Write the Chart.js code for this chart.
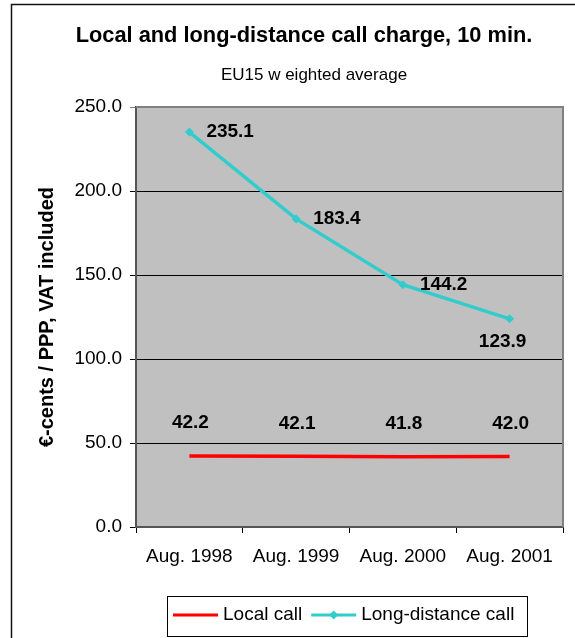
<!DOCTYPE html>
<html>
<head>
<meta charset="utf-8">
<script src="https://cdn.jsdelivr.net/npm/chart.js@4"></script>
<style>
  html, body { margin: 0; padding: 0; background: #fff; }
  canvas { display: block; }
</style>
</head>
<body>
<canvas id="callChart" width="575" height="638"></canvas>
<script>
const chartTitle = "Local and long-distance call charge, 10 min.";
const chartSubtitle = "EU15 w eighted average";
const yTitle = "€-cents / PPP, VAT included";
const categories = ["Aug. 1998", "Aug. 1999", "Aug. 2000", "Aug. 2001"];
const localCall = [42.2, 42.1, 41.8, 42.0];
const longDistanceCall = [235.1, 183.4, 144.2, 123.9];
const seriesNames = ["Local call", "Long-distance call"];
const yMin = 0, yMax = 250, yStep = 50;

const FONT = "'Liberation Sans', Arial, sans-serif";
Chart.defaults.color = "#000";
Chart.defaults.font.family = FONT;

// where each value label sits relative to its point
const labelPlacement = [
    ["above", "above", "above", "above"],
    ["right", "right", "right", "below"]
];

// ===== frame, plot background, titles =====
const framePlugin = {
    id: "frame",
    beforeDraw(chart) {
        const c = chart.ctx, a = chart.chartArea;
        c.save();
        c.fillStyle = "#fff";
        c.fillRect(0, 0, chart.width, chart.height);
        c.strokeStyle = "#111";
        c.lineWidth = 1.5;
        c.strokeRect(11.5, 4.5, 700, 700);
        c.fillStyle = "#c0c0c0";
        c.fillRect(a.left, a.top, a.right - a.left, a.bottom - a.top);
        c.fillStyle = "#000";
        c.textAlign = "center";
        c.textBaseline = "middle";
        c.font = "bold 21.8px " + FONT;
        c.fillText(chartTitle, 304, 36);
        c.font = "17px " + FONT;
        c.fillText(chartSubtitle, 314, 75);
        c.restore();
    },
    beforeDatasetsDraw(chart) {
        const c = chart.ctx, a = chart.chartArea;
        c.save();
        c.strokeStyle = "#808080";
        c.lineWidth = 2;
        c.beginPath();
        c.moveTo(a.left, a.top);
        c.lineTo(a.right, a.top);
        c.lineTo(a.right, a.bottom);
        c.stroke();
        c.restore();
    }
};

// ===== value labels =====
const valueLabels = {
    id: "valueLabels",
    afterDatasetsDraw(chart) {
        const c = chart.ctx;
        c.save();
        c.font = "bold 19px " + FONT;
        c.fillStyle = "#000";
        c.textBaseline = "middle";
        chart.data.datasets.forEach((ds, di) => {
            chart.getDatasetMeta(di).data.forEach((pt, i) => {
                const txt = ds.data[i].toFixed(1);
                const where = labelPlacement[di][i];
                if (where === "right") {
                    c.textAlign = "left";
                    c.fillText(txt, pt.x + 17, pt.y);
                } else if (where === "below") {
                    c.textAlign = "center";
                    c.fillText(txt, pt.x - 7, pt.y + 23);
                } else {
                    c.textAlign = "center";
                    c.fillText(txt, pt.x + 1, pt.y - 33);
                }
            });
        });
        c.restore();
    }
};

// ===== boxed legend =====
const boxLegend = {
    id: "boxLegend",
    afterDraw(chart) {
        const c = chart.ctx;
        c.save();
        c.fillStyle = "#fff";
        c.fillRect(167, 596, 360, 40);
        c.strokeStyle = "#000";
        c.lineWidth = 1;
        c.strokeRect(167.5, 596.5, 360, 40);
        c.font = "19px " + FONT;
        c.textBaseline = "middle";
        c.textAlign = "left";
        let x = 173;
        const y = 615;
        chart.data.datasets.forEach(ds => {
            c.strokeStyle = ds.borderColor;
            c.lineWidth = 3;
            c.beginPath();
            c.moveTo(x, y);
            c.lineTo(x + 45, y);
            c.stroke();
            if (ds.pointRadius > 0) {
                c.fillStyle = ds.borderColor;
                c.beginPath();
                c.moveTo(x + 22.5, y - 4.5);
                c.lineTo(x + 27, y);
                c.lineTo(x + 22.5, y + 4.5);
                c.lineTo(x + 18, y);
                c.closePath();
                c.fill();
            }
            c.fillStyle = "#000";
            c.fillText(ds.label, x + 50, y);
            x += 50 + c.measureText(ds.label).width + 9;
        });
        c.restore();
    }
};

new Chart(document.getElementById("callChart"), {
    type: "line",
    data: {
        labels: categories,
        datasets: [{
            label: seriesNames[0],
            data: localCall,
            borderColor: "#ff0000",
            borderWidth: 3.5,
            pointRadius: 0,
            tension: 0
        }, {
            label: seriesNames[1],
            data: longDistanceCall,
            borderColor: "#33cccc",
            backgroundColor: "#33cccc",
            borderWidth: 3.5,
            pointStyle: "rectRot",
            pointRadius: 4.5,
            pointBorderWidth: 0,
            tension: 0
        }]
    },
    options: {
        responsive: false,
        animation: false,
        layout: { padding: { left: 0, right: 12, top: 107, bottom: 0 } },
        plugins: {
            legend: { display: false },
            title: { display: false },
            tooltip: { enabled: false }
        },
        scales: {
            x: {
                offset: true,
                grid: { offset: true, drawOnChartArea: false, drawTicks: true, tickLength: 6, color: "#000" },
                border: { color: "#555", width: 2 },
                ticks: { font: { size: 19 }, padding: 12, maxRotation: 0 },
                afterFit(s) { s.height = 111; }
            },
            y: {
                min: yMin,
                max: yMax,
                grid: {
                    color: ctx => (ctx.tick && ctx.tick.value === yMax ? "#808080" : "#000"),
                    lineWidth: 1,
                    tickLength: 6
                },
                border: { color: "#555", width: 2 },
                ticks: {
                    stepSize: yStep,
                    font: { size: 19 },
                    padding: 8,
                    callback: v => v.toFixed(1)
                },
                title: {
                    display: true,
                    text: yTitle,
                    font: { size: 20, weight: "bold" },
                    padding: { top: 35, bottom: 0 }
                },
                afterFit(s) { s.width = 136; }
            }
        }
    },
    plugins: [framePlugin, valueLabels, boxLegend]
});
</script>
</body>
</html>
